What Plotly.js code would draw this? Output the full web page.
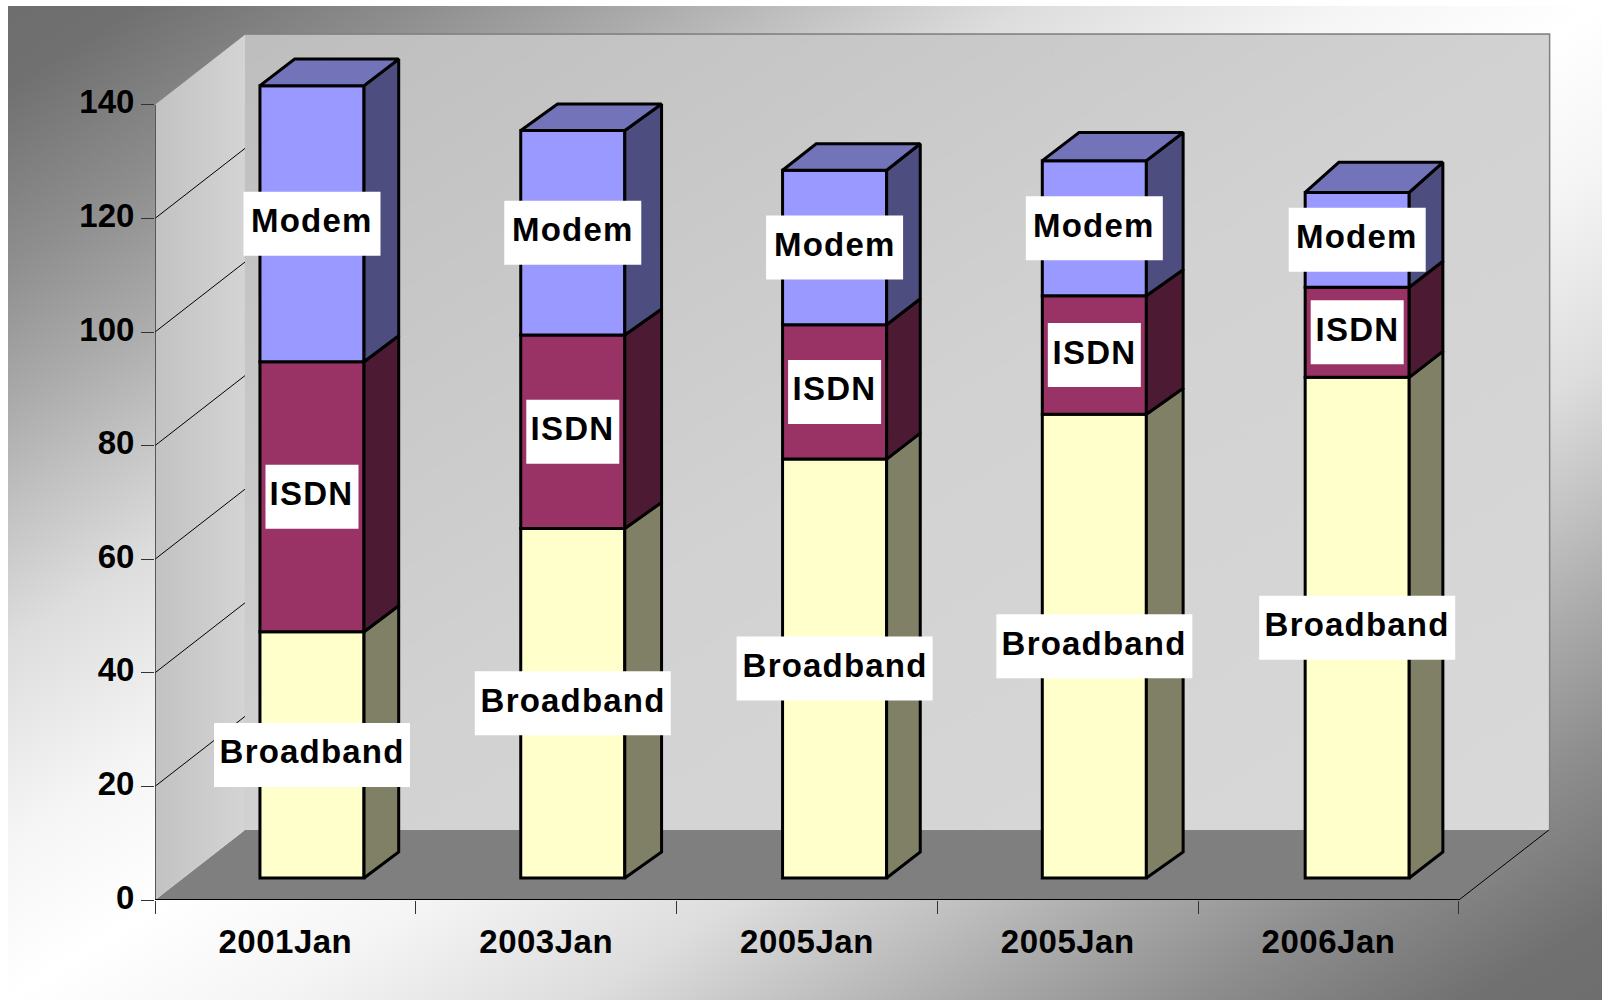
<!DOCTYPE html>
<html>
<head>
<meta charset="utf-8">
<script src="https://cdn.plot.ly/plotly-3.0.1.min.js"></script>
<style>
html,body{margin:0;padding:0;background:#fff;width:1602px;height:1000px;overflow:hidden}
#bg{position:absolute;left:8px;top:6px;right:0;bottom:0;background:linear-gradient(to bottom right,#6e6e6e 0%,#707070 4%,#8e8e8e 13%,#aaaaaa 20%,#c0c0c0 25%,#dddddd 32%,#f5f5f5 42%,#ffffff 50%,#f5f5f5 58%,#dddddd 68%,#c0c0c0 75%,#aaaaaa 80%,#8e8e8e 87%,#707070 96%,#6e6e6e 100%)}
#chart{position:absolute;left:0;top:0;width:1602px;height:1000px}
.annotation text{letter-spacing:1.2px}
.xtick text{letter-spacing:0.5px}
</style>
</head>
<body>
<div id="bg"></div>
<div id="chart"></div>
<script>
const categories = ["2001Jan","2003Jan","2005Jan","2005Jan","2006Jan"];
const broadband = [43.35,61.55,73.75,81.65,88.15];
const isdn = [47.55,34.05,23.65,20.85,15.85];
const modem = [48.6,36.0,27.2,23.8,16.7];
const yTicks = [0,20,40,60,80,100,120,140];

const seriesList = [
  {name:"Broadband", values:broadband, front:"#FFFFCC", side:"#808066", boxWidth:196},
  {name:"ISDN", values:isdn, front:"#993366", side:"#4D1A33", boxWidth:93},
  {name:"Modem", values:modem, front:"#9999FF", side:"#4D4D80", boxWidth:137}
];
const topColor = "#7373BA";

// pseudo-3D depth, in axis units
const wallDx = 0.345, wallDy = 12.32;
const barDy = 4.58;
const barLift = 3.87, barWidth = 0.399;
const barCentres = [0.602,0.602,0.606,0.602,0.61];
const barDxs = [0.133,0.141,0.129,0.141,0.129];
const topDys = [4.68,4.68,4.68,4.95,5.3];
const n = categories.length;
const font = {family:'"Liberation Sans",Arial,sans-serif', size:33, color:"#000", weight:700};

const traces = [];
const shapes = [];
const annotations = [];

// left wall
traces.push({type:"scatter",mode:"none",fill:"toself",
  x:[0,wallDx,wallDx,0,0], y:[0,wallDy,140+wallDy,140,0],
  fillgradient:{type:"horizontal",colorscale:[[0,"#C2C2C2"],[1,"#D4D4D4"]]},
  fillcolor:"#C8C8C8",hoverinfo:"skip"});
const dxs=[],dys=[];
yTicks.filter(v=>v>0&&v<140).forEach(v=>{dxs.push(0,wallDx,null);dys.push(v,v+wallDy,null);});
dxs.push(n,n+wallDx,null);dys.push(0,wallDy,null);
traces.push({type:"scatter",mode:"lines",x:dxs,y:dys,line:{color:"#000",width:1},hoverinfo:"skip"});

// back wall outline, grid and floor
yTicks.filter(v=>v>0&&v<140).forEach(v=>{
  shapes.push({type:"line",layer:"below",xref:"x",yref:"y",x0:wallDx,x1:n+wallDx,y0:v+wallDy,y1:v+wallDy,line:{color:"#000",width:1}});
});
shapes.push({type:"rect",layer:"below",xref:"x",yref:"y",x0:wallDx,x1:n+wallDx,y0:wallDy,y1:140+wallDy,line:{color:"#808080",width:3}});
shapes.push({type:"path",layer:"below",xref:"x",yref:"y",
  path:`M0,0 L${n},0 L${n+wallDx},${wallDy} L${wallDx},${wallDy} Z`,fillcolor:"#7F7F7F",line:{width:0}});
shapes.push({type:"line",layer:"above",xref:"x",yref:"y",x0:0,x1:0,y0:0,y1:140,line:{color:"#333",width:1.5}});
shapes.push({type:"line",layer:"above",xref:"x",yref:"y",x0:0,x1:n,y0:0,y1:0,line:{color:"#000",width:2}});

// bars
const cumulative = categories.map(()=>barLift);
const xc = categories.map((c,i)=>i+barCentres[i]);
seriesList.forEach((s,si)=>{
  const bases = cumulative.slice();
  const tops = bases.map((b,i)=>b+s.values[i]);
  const isTop = si===seriesList.length-1;
  traces.push({type:"bar",x:xc,y:s.values,base:bases,width:barWidth,
    marker:{color:s.front,line:{color:"#000",width:3}},hoverinfo:"skip"});
  const sx=[],sy=[];
  xc.forEach((c,i)=>{
    const r=c+barWidth/2, d=barDxs[i], upper=isTop?topDys[i]:barDy, mid=(bases[i]+tops[i])/2;
    sx.push(r,r+d,r+d,r,r,null);
    sy.push(bases[i],bases[i]+barDy,tops[i]+upper,tops[i],bases[i],null);
    shapes.push({type:"rect",layer:"above",xref:"x",yref:"y",xsizemode:"pixel",ysizemode:"pixel",
      xanchor:c,yanchor:mid,x0:-s.boxWidth/2,x1:s.boxWidth/2,y0:-32,y1:32,fillcolor:"#FFFFFF",line:{width:0}});
    annotations.push({xref:"x",yref:"y",x:c,y:mid,yshift:3,text:s.name,showarrow:false,font:font,borderwidth:0});
  });
  traces.push({type:"scatter",mode:"lines",fill:"toself",x:sx,y:sy,fillcolor:s.side,
    line:{color:"#000",width:3,join:"miter"},hoverinfo:"skip"});
  tops.forEach((t,i)=>cumulative[i]=t);
});
// top faces
const tx=[],ty=[];
xc.forEach((c,i)=>{
  const l=c-barWidth/2,r=c+barWidth/2,t=cumulative[i],d=barDxs[i],h=topDys[i];
  tx.push(l,r,r+d,l+d,l,null);
  ty.push(t,t,t+h,t+h,t,null);
});
traces.push({type:"scatter",mode:"lines",fill:"toself",x:tx,y:ty,fillcolor:topColor,
  line:{color:"#000",width:3,join:"miter"},hoverinfo:"skip"});

// back-wall gradient image
const cv=document.createElement("canvas");cv.width=512;cv.height=512;
const cx=cv.getContext("2d");
const g=cx.createLinearGradient(0,0,512,512);
g.addColorStop(0,"#BEBEBE");g.addColorStop(0.5,"#D2D2D2");g.addColorStop(1,"#D9D9D9");
cx.fillStyle=g;cx.fillRect(0,0,512,512);

const layout={
  width:1602,height:1000,showlegend:false,barmode:"overlay",hovermode:false,
  paper_bgcolor:"rgba(0,0,0,0)",plot_bgcolor:"rgba(0,0,0,0)",
  margin:{l:155,r:50,t:30,b:100,pad:0},
  xaxis:{type:"linear",range:[0,5.357],tickmode:"array",tickvals:categories.map((c,i)=>i+0.5),ticktext:categories,
    ticks:"",showgrid:false,zeroline:false,showline:false,tickfont:font,ticklabelstandoff:19,
    minor:{tickmode:"array",tickvals:categories.map((c,i)=>i).concat([n]),ticks:"outside",ticklen:13,tickwidth:1,tickcolor:"#333",showgrid:false}},
  yaxis:{range:[0,153.17],tickmode:"array",tickvals:yTicks,ticks:"outside",ticklen:13,tickwidth:1,tickcolor:"#333",
    showgrid:false,zeroline:false,showline:false,tickfont:font,ticklabelshift:-3},
  images:[{source:cv.toDataURL(),xref:"x",yref:"y",x:wallDx,y:140+wallDy,sizex:n,sizey:140,sizing:"stretch",xanchor:"left",yanchor:"top",layer:"below"}],
  shapes:shapes,annotations:annotations
};
Plotly.newPlot("chart",traces,layout,{staticPlot:true,displayModeBar:false});
</script>
</body>
</html>
